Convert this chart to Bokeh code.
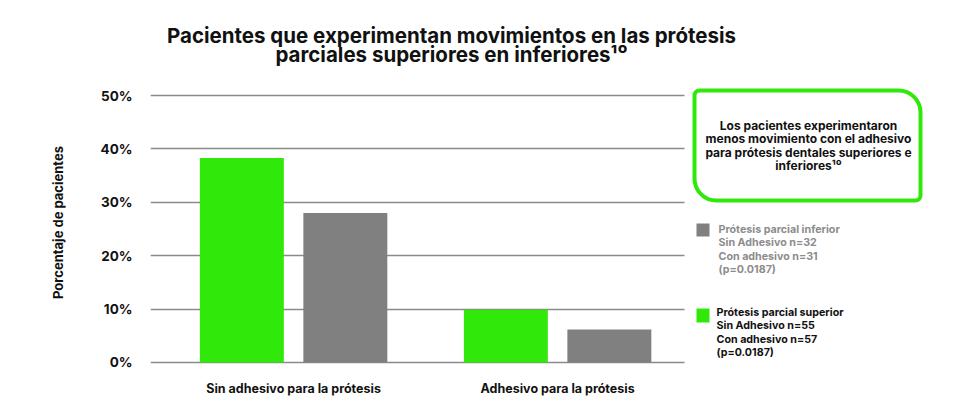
from bokeh.plotting import figure
from bokeh.layouts import column
from bokeh.models import (ColumnDataSource, Range1d, FixedTicker, Label, BoxAnnotation)
from bokeh.transform import dodge
from bokeh.embed import file_html
from bokeh.resources import INLINE

# ---- data ----
categories = ["Sin adhesivo para la prótesis", "Adhesivo para la prótesis"]
superior = [38.3, 9.9]   # Prótesis parcial superior (green)
inferior = [28.0, 6.2]   # Prótesis parcial inferior (gray)
y_ticks = [0, 10, 20, 30, 40, 50]
y_tick_labels = ["0%", "10%", "20%", "30%", "40%", "50%"]

title_line1 = "Pacientes que experimentan movimientos en las prótesis"
title_line2 = "parciales superiores en inferiores¹⁰"
box_text = ("Los pacientes experimentaron\nmenos movimiento con el adhesivo\n"
            "para prótesis dentales superiores e\ninferiores¹⁰")
legend_inferior = "Prótesis parcial inferior\nSin Adhesivo n=32\nCon adhesivo n=31\n(p=0.0187)"
legend_superior = "Prótesis parcial superior\nSin Adhesivo n=55\nCon adhesivo n=57\n(p=0.0187)"

GREEN = "#31e80b"
GRAY = "#808080"
FONT = "Inter"
INK = "#111111"
W = 960

# ---- title strip (its frame is aligned with the chart frame, left edge at x=150) ----
t = figure(width=W, height=80, output_backend="svg", toolbar_location=None,
           x_range=Range1d(0, W), y_range=Range1d(0, 80),
           x_axis_location=None, y_axis_location=None,
           min_border_left=0, min_border_right=0, min_border_top=0, min_border_bottom=0)
t.outline_line_color = None
t.grid.visible = False
for txt, yy in ((title_line1, 45.5), (title_line2, 26.5)):
    t.add_layout(Label(x=301, y=yy, x_units="screen", y_units="screen", text=txt,
                       text_align="center", text_baseline="alphabetic", text_font=FONT,
                       text_font_style="bold", text_font_size="20.5px", text_color=INK))

# ---- chart ----
src = ColumnDataSource(dict(x=list(range(len(categories))), sup=superior, inf=inferior))

p = figure(width=W, height=330, output_backend="svg", toolbar_location=None,
           x_range=Range1d(-0.542, 2.526), y_range=Range1d(-0.375, 52.81),
           min_border_left=150, min_border_right=0, min_border_top=0, min_border_bottom=46)
p.outline_line_color = None

p.vbar(x=dodge("x", -0.196, range=p.x_range), top="sup", width=0.318, source=src,
       fill_color=GREEN, line_color=None)
p.vbar(x=dodge("x", 0.196, range=p.x_range), top="inf", width=0.318, source=src,
       fill_color=GRAY, line_color=None)

# axes
p.xaxis.ticker = FixedTicker(ticks=list(range(len(categories))))
p.xaxis.major_label_overrides = {i: c for i, c in enumerate(categories)}
p.yaxis.ticker = FixedTicker(ticks=y_ticks)
p.yaxis.major_label_overrides = {tk: lb for tk, lb in zip(y_ticks, y_tick_labels)}
for ax in (p.xaxis, p.yaxis):
    ax.axis_line_color = None
    ax.major_tick_line_color = None
    ax.minor_tick_line_color = None
    ax.major_label_text_font = FONT
    ax.major_label_text_font_style = "bold"
    ax.major_label_text_color = INK
p.xaxis.major_label_text_font_size = "12.5px"
p.xaxis.major_label_standoff = 10
p.yaxis.major_label_text_font_size = "13.5px"
p.yaxis.major_label_standoff = 12
p.yaxis.axis_label = "Porcentaje de pacientes"
p.yaxis.axis_label_text_font = FONT
p.yaxis.axis_label_text_font_style = "bold"
p.yaxis.axis_label_text_font_size = "13px"
p.yaxis.axis_label_text_color = INK
p.yaxis.axis_label_standoff = 32

p.xgrid.grid_line_color = None
p.ygrid.grid_line_color = "#8a8a8a"
p.ygrid.grid_line_width = 1.5

def screen_box(l, r, b, tp, **kw):
    return BoxAnnotation(left=l, right=r, bottom=b, top=tp,
                         left_units="screen", right_units="screen",
                         bottom_units="screen", top_units="screen", **kw)

# white panel hiding the grid to the right of the chart area
p.add_layout(screen_box(534, 1000, -50, 500, fill_color="white", fill_alpha=1,
                        line_color=None))

# callout box
p.add_layout(screen_box(544, 770, 164, 274, fill_color="white", fill_alpha=1,
                        line_color=GREEN, line_alpha=1, line_width=4,
                        border_radius=(5, 22, 5, 22)))
p.add_layout(Label(x=658, y=219, x_units="screen", y_units="screen", text=box_text,
                   text_align="center", text_baseline="middle", text_font=FONT,
                   text_font_style="bold", text_font_size="12px", text_color=INK,
                   text_line_height=0.88))

# legend
p.add_layout(screen_box(546, 559, 128, 141, fill_color=GRAY, fill_alpha=1, line_color=None))
p.add_layout(Label(x=568, y=115, x_units="screen", y_units="screen", text=legend_inferior,
                   text_align="left", text_baseline="middle", text_font=FONT,
                   text_font_style="bold", text_font_size="10.7px", text_color="#8c8c8c",
                   text_line_height=1.05))
p.add_layout(screen_box(546, 559, 42, 56, fill_color=GREEN, fill_alpha=1, line_color=None))
p.add_layout(Label(x=566, y=32, x_units="screen", y_units="screen", text=legend_superior,
                   text_align="left", text_baseline="middle", text_font=FONT,
                   text_font_style="bold", text_font_size="10.7px", text_color=INK,
                   text_line_height=1.05))

open("out.html", "w").write(file_html(column(t, p, spacing=0), INLINE))
